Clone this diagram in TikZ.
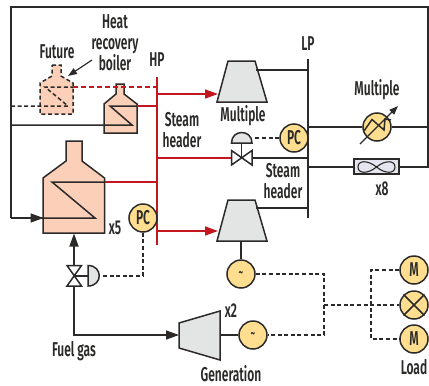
\documentclass[tikz,border=0pt]{standalone}
\usepackage{fontspec}
\setmainfont[FakeStretch=0.6]{Fira Sans SemiBold}
\usetikzlibrary{arrows.meta}
\definecolor{ink}{HTML}{2B2A29}
\definecolor{hotred}{HTML}{C4161F}
\definecolor{salmon}{HTML}{FBCFB8}
\definecolor{amber}{HTML}{FFDF8F}
\definecolor{steel}{HTML}{E3E4E4}
\definecolor{lilac}{HTML}{E5E5EF}
\tikzset{
  pipe/.style={draw=ink,line width=1.5pt},
  steam/.style={draw=hotred,line width=1.5pt},
  sig/.style={draw=ink,line width=1.5pt,dash pattern=on 4pt off 2.6pt},
  flow/.style={-{Triangle[length=13pt,width=9pt]}},
  equip/.style={draw=ink,line width=1.5pt,line join=miter},
  roundel/.style={circle,draw=ink,line width=1.5pt,fill=amber,minimum size=28pt,inner sep=0pt,text=ink},
  lab/.style={inner sep=0pt,text=ink,font=\fontsize{20}{20}\selectfont},
  tilde/.style={font=\fontsize{15}{15}\selectfont}
}
\begin{document}
\begin{tikzpicture}[x=1pt,y=-1pt]
\useasboundingbox (0,0) rectangle (429,386);
% anchor coordinates
\coordinate (frameA) at (11,7);
\coordinate (frameB) at (428,7);
\coordinate (frameC) at (428,167);
\coordinate (frameD) at (11,218);
\coordinate (boilerL) at (43.5,218);
\coordinate (hpT) at (157,77);
\coordinate (hpB) at (157,245);
\coordinate (lpT) at (308,59);
\coordinate (lpB) at (308,218);
% boilers
\draw[equip,fill=salmon] (66,141) -- (82,141) -- (82,161) -- (104.5,178) -- (104.5,233) -- (43,233) -- (43,178) -- (66,161) -- cycle;
\draw[equip,fill=salmon] (116,84) -- (124,84) -- (124,94) -- (137,104) -- (137,133) -- (104,133) -- (104,104) -- (116,94) -- cycle;
\draw[equip,fill=salmon,dash pattern=on 4pt off 2.6pt] (52,65) -- (61,65) -- (61,76) -- (73,83) -- (73,114) -- (40,114) -- (40,83) -- (52,76) -- cycle;
% headers and frame
\draw[steam] (hpT) -- (hpB);
\draw[pipe] (lpT) -- (lpB);
\coordinate (bigCoilA) at (52,182);
\coordinate (bigCoilB) at (95,218);
\coordinate (bigEdge) at (104.5,182);
\coordinate (smCoilA) at (110,106);
\coordinate (smCoilB) at (132,125);
\coordinate (smEdge) at (137,106);
\coordinate (fuCoilA) at (45,87);
\coordinate (fuCoilB) at (68,106);
\coordinate (fuEdge) at (73,87);
\draw[pipe,line join=miter] (11,125) -- (smCoilB) -- (smCoilA) -- (smEdge);
\draw[pipe,line join=miter] (bigEdge) -- (bigCoilA) -- (bigCoilB) -- (frameD);
\draw[sig] (11,106) -- (fuCoilB) -- (fuCoilA) -- (fuEdge);
\draw[pipe,line join=miter] (frameD) -- (frameA) -- (frameB) -- (frameC) -- (lpB |- frameC);
\draw[pipe,flow] (frameD) -- (boilerL);
% steam branches
\draw[steam] (smEdge) -- (hpT |- smEdge);
\draw[steam] (bigEdge) -- (hpT |- bigEdge);
\draw[steam,dash pattern=on 5pt off 3pt] (fuEdge) -- (hpT |- fuEdge);
\coordinate (tbA) at (218,94);
\coordinate (tbB) at (218,231);
\draw[steam,flow] (hpT |- tbA) -- (tbA);
\draw[steam,flow] (hpT |- tbB) -- (tbB);
% turbines
\draw[equip,fill=steel] (228,61) -- (255,61) -- (267,102) -- (217,102) -- cycle;
\draw[equip,fill=steel] (228,200) -- (255,200) -- (267,241) -- (217,241) -- cycle;
\draw[pipe] (256,70) -- (lpT |- 0,70);
\draw[pipe] (256,208) -- (lpT |- 0,208);
% control valve on steam header
\coordinate (vA) at (231.5,158);
\coordinate (vB) at (252,158);
\coordinate (vC) at (241.7,158);
\draw[steam] (hpT |- vA) -- (vA);
\draw[pipe] (vB) -- (lpT |- vB);
\draw[equip,fill=white] (231.5,150.5) -- (252,165) -- (252,150.5) -- (231.5,165) -- cycle;
\draw[pipe] (vC) -- (241.7,143);
\draw[equip,fill=steel] (231.5,143) .. controls (231.5,129) and (252,129) .. (252,143) -- cycle;
\node[roundel,lab] (pcA) at (294,138) {PC};
\draw[sig] (pcA) -- (254,138);
% cooler and fan
\node[roundel] (hx) at (377,127) {};
\draw[pipe] (lpT |- hx) -- (hx);
\draw[pipe] (hx) -- (frameB |- hx);
\draw[draw=ink,line width=1.5pt,line join=miter] (364,131) -- (372,119.5) -- (384,130) -- (385,119) -- (391,120);
\draw[draw=ink,line width=1.3pt,-{Triangle[length=9pt,width=6.5pt]}] (360,144) -- (398,106);
\node[draw=ink,line width=1.5pt,fill=lilac,minimum width=45pt,minimum height=15pt,inner sep=0pt] (fan) at (376.5,166.7) {};
\draw[pipe,line width=1.1pt] (376.5,167) .. controls (368,160) and (358,160) .. (358,167) .. controls (358,174) and (368,174) .. (376.5,167) .. controls (385,160) and (395,160) .. (395,167) .. controls (395,174) and (385,174) .. (376.5,167);
% generators and loads
\node[roundel,tilde] (g1) at (241,274) {\textasciitilde};
\node[roundel,tilde] (g2) at (253,335) {\textasciitilde};
\node[roundel,lab] (m1) at (414,270) {M};
\node[roundel] (mx) at (414,305) {};
\node[roundel,lab] (m2) at (414,339) {M};
\draw[draw=ink,line width=1.5pt] (mx.north west) -- (mx.south east) (mx.north east) -- (mx.south west);
\draw[pipe] (241,241) -- (g1);
\coordinate (busL) at (324,305);
\coordinate (busR) at (371,305);
\draw[sig] (g1) -- (busL |- g1) -- (busL |- g2) -- (g2);
\draw[sig] (busL) -- (mx);
\draw[sig] (m1) -- (busR |- m1) -- (busR |- m2) -- (m2);
% bottom PC and fuel valve
\node[roundel,lab] (pcB) at (143,218) {PC};
\coordinate (fv) at (74,276);
\coordinate (boilerB) at (74,233.5);
\coordinate (comp) at (179,335);
\draw[pipe,flow] (fv) -- (boilerB);
\draw[pipe,flow] (fv) -- (fv |- comp) -- (comp);
\draw[equip,fill=white] (67,265.5) -- (81.5,265.5) -- (67,286) -- (81.5,286) -- cycle;
\draw[pipe] (fv) -- (88,276);
\draw[equip,fill=steel] (88,265.5) .. controls (103,265.5) and (103,286) .. (88,286) -- cycle;
\draw[sig] (pcB) -- (pcB |- fv) -- (101,276);
% compressor
\draw[equip,fill=steel] (179,323) -- (220,311) -- (220,360) -- (179,348) -- cycle;
\draw[pipe] (220,335) -- (g2);
% labels
\node[lab,anchor=base] (lFuture) at (57,58) {Future};
\node[lab,anchor=base] (lHeat) at (115,28) {Heat};
\node[lab,anchor=base] (lRec) at (115,49) {recovery};
\node[lab,anchor=base] (lBoil) at (115,70) {boiler};
\node[lab,anchor=base] (lHP) at (157,66) {HP};
\node[lab] (lS1) at (182,120) {Steam};
\node[lab] (lH1) at (182,140) {header};
\node[lab] (lM1) at (243,116) {Multiple};
\node[lab] (lLP) at (308,44) {LP};
\node[lab] (lM2) at (377,90) {Multiple};
\node[lab] (lS2) at (283,171) {Steam};
\node[lab] (lH2) at (283,191) {header};
\node[lab] (lx8) at (382,189) {x8};
\node[lab] (lx5) at (115,228) {x5};
\node[lab] (lx2) at (231,311) {x2};
\node[lab,anchor=base] (lGen) at (231,381.5) {Generation};
\node[lab] (lFuel) at (74,351) {Fuel gas};
\node[lab] (lLoad) at (414,367) {Load};
\coordinate (arrowEnd) at (68,76);
\draw[draw=ink,line width=1.2pt,-{Triangle[length=9pt,width=6.5pt]}] (92,60) -- (arrowEnd);
\end{tikzpicture}
\end{document}
